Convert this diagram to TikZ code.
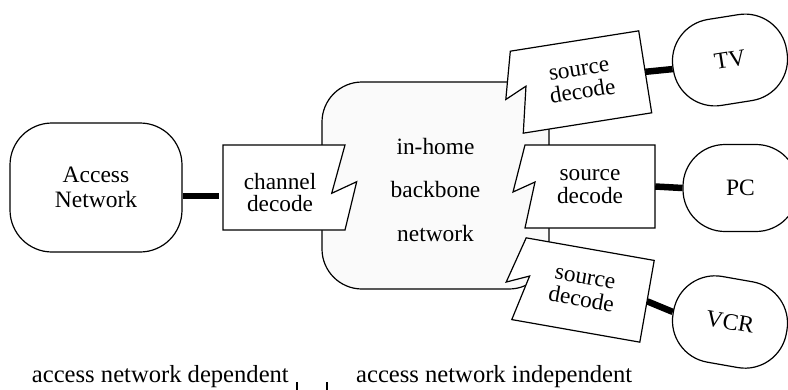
\documentclass[tikz,border=0pt]{standalone}
\usepackage{fontspec}
\setmainfont{Liberation Serif}
\usetikzlibrary{positioning}

\tikzset{
  boxline/.style={draw, line width=1.2pt},
  link/.style={line width=6.5pt},
  endpoint/.style={boxline, fill=white, rounded corners=42pt, minimum width=115pt,
    minimum height=87pt, align=center, font=\fontsize{23.5}{25}\selectfont},
  decodebox/.style={minimum width=130pt, minimum height=83pt, inner sep=0pt,
    align=center, font=\fontsize{23.3}{22.8}\selectfont},
  sourceshape/.style={insert path={(-65,-41.5) -- (65,-41.5) -- (65,41.5) -- (-65,41.5)
    -- (-55,-4.5) -- (-77,5.5) -- cycle}},
  channelshape/.style={insert path={(-61,-42.5) -- (61,-42.5) -- (47.7,5.8) -- (72.7,-5.8)
    -- (61,42.5) -- (-61,42.5) -- cycle}},
  backbone/.style={boxline, fill=gray!4, rounded corners=40pt, minimum width=227pt,
    minimum height=207pt},
  bbtext/.style={align=center, font=\fontsize{23.4}{43.5}\selectfont},
  note/.style={inner sep=0pt, font=\fontsize{24.6}{24.6}\selectfont},
}

\begin{document}
\begin{tikzpicture}[x=1pt, y=-1pt]
\useasboundingbox (0,0) rectangle (788,389);

% in-home part
\node[backbone] (bb) at (435.5,185.5) {};
\node[bbtext] (bbt) at ([yshift=-4pt]bb.center) {in-home\\backbone\\network};

% access side
\node[endpoint, minimum width=172pt, minimum height=129pt] (an) at (96,187.5) {Access\\Network};
\begin{scope}[shift={(284,187.5)}]
  \draw[boxline, fill=white, channelshape];
  \node[decodebox, minimum width=122pt, minimum height=85pt] (ch) at (-4,5) {channel\\decode};
\end{scope}

% source decoders
\begin{scope}[shift={(581,82)}, rotate=9]
  \draw[boxline, fill=white, sourceshape];
  \node[decodebox, transform shape] (tvsd) at (0,0) {source\\decode};
\end{scope}
\begin{scope}[shift={(590,186.5)}]
  \draw[boxline, fill=white, sourceshape];
  \node[decodebox] (pcsd) at (0,0) {source\\decode};
\end{scope}
\begin{scope}[shift={(583,290)}, rotate=-10]
  \draw[boxline, fill=white, sourceshape];
  \node[decodebox, transform shape] (vcrsd) at (0,0) {source\\decode};
\end{scope}

% end devices
\node[endpoint, rotate=9] (tv) at (730,60) {TV};
\node[endpoint] (pc) at (740.5,188) {PC};
\node[endpoint, rotate=-10] (vcr) at (730,322) {VCR};

\draw[link] ([yshift=-8.5pt]an.east) -- ([yshift=-8.5pt]an.east -| ch.west);
\draw[link] (tvsd.east) -- (tv.west);
\draw[link] (pcsd.east) -- (pc.west);
\draw[link] (vcrsd.east) -- (vcr.west);

% split line
\node[note, anchor=base east] (dep) at (289,382) {access network dependent};
\node[note, anchor=base west] (indep) at (356,382) {access network independent};
\draw[boxline] (297,382) -- (297,392);
\draw[boxline] (327,382) -- (327,392);

\end{tikzpicture}
\end{document}
